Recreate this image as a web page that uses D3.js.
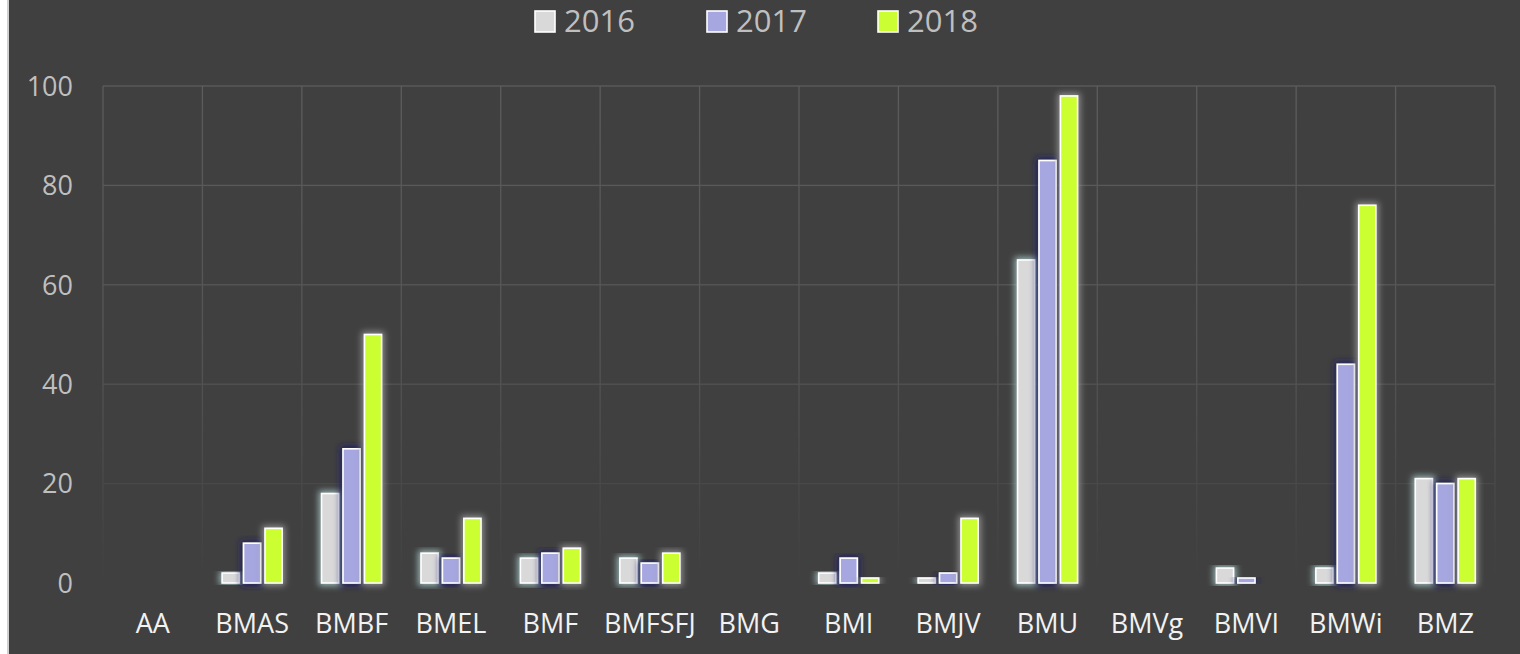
<!DOCTYPE html>
<html>
<head>
<meta charset="utf-8">
<script src="https://cdn.jsdelivr.net/npm/d3@7"></script>
<style>
  body { margin: 0; background: #fff; }
  svg { display: block; }
</style>
</head>
<body>
<svg width="1520" height="654"></svg>
<script>
var categories = ["AA", "BMAS", "BMBF", "BMEL", "BMF", "BMFSFJ", "BMG", "BMI", "BMJV", "BMU", "BMVg", "BMVI", "BMWi", "BMZ"];
var years = ["2016", "2017", "2018"];
var values2016 = [0, 2, 18, 6, 5, 5, 0, 2, 1, 65, 0, 3, 3, 21];
var values2017 = [0, 8, 27, 5, 6, 4, 0, 5, 2, 85, 0, 1, 44, 20];
var values2018 = [0, 11, 50, 13, 7, 6, 0, 1, 13, 98, 0, 0, 76, 21];
var yTicks = [0, 20, 40, 60, 80, 100];

var colors = { "2016": "#d9d9d9", "2017": "#a6a6e0", "2018": "#ccff33" };
var glows = { "2016": "#a8c8c8", "2017": "#1c1c6a", "2018": "#9a9a9a" };

var svg = d3.select('svg');
var defs = svg.append('defs');

// background panel with a light left edge
svg.append('rect')
  .attr('x', 8).attr('y', 0)
  .attr('width', 1520).attr('height', 654)
  .attr('fill', '#404040');
svg.append('line')
  .attr('x1', 8).attr('x2', 8).attr('y1', 0).attr('y2', 654)
  .attr('stroke', '#d0d0d0').attr('stroke-width', 2);

var plotLeft = 103, plotRight = 1495, plotTop = 86, plotBottom = 583;

var x = d3.scaleBand().domain(categories).range([plotLeft, plotRight]);
var y = d3.scaleLinear().domain([0, 100]).range([plotBottom, plotTop]);

// grid lines fade out toward the bottom
var grad = defs.append('linearGradient')
  .attr('id', 'gridFade')
  .attr('gradientUnits', 'userSpaceOnUse')
  .attr('x1', 0).attr('y1', plotTop).attr('x2', 0).attr('y2', plotBottom);
grad.append('stop').attr('offset', '0%').attr('stop-color', '#5c5c5c');
grad.append('stop').attr('offset', '55%').attr('stop-color', '#545454');
grad.append('stop').attr('offset', '100%').attr('stop-color', '#404040');

var grid = svg.append('g');
grid.selectAll('rect.h')
  .data(yTicks.filter(function(d){ return d > 0; }))
  .enter()
  .append('rect')
  .attr('x', plotLeft)
  .attr('y', function(d){ return y(d) - 0.65; })
  .attr('width', plotRight - plotLeft)
  .attr('height', 1.3)
  .attr('fill', 'url(#gridFade)');

var vLines = categories.map(function(c){ return x(c); }).concat([plotRight]);
grid.selectAll('rect.v')
  .data(vLines)
  .enter()
  .append('rect')
  .attr('x', function(d){ return d - 0.65; })
  .attr('y', plotTop)
  .attr('width', 1.3)
  .attr('height', plotBottom - plotTop)
  .attr('fill', 'url(#gridFade)');

// glow filters
years.forEach(function(yr){
  var f = defs.append('filter')
    .attr('id', 'glow' + yr)
    .attr('x', '-60%').attr('y', '-20%').attr('width', '220%').attr('height', '140%');
  f.append('feMorphology').attr('in', 'SourceAlpha').attr('operator', 'dilate').attr('radius', 2).attr('result', 'dil');
  f.append('feGaussianBlur').attr('in', 'dil').attr('stdDeviation', 3).attr('result', 'blur');
  f.append('feFlood').attr('flood-color', glows[yr]).attr('flood-opacity', 0.85);
  f.append('feComposite').attr('in2', 'blur').attr('operator', 'in').attr('result', 'g');
  var m = f.append('feMerge');
  m.append('feMergeNode').attr('in', 'g');
  m.append('feMergeNode').attr('in', 'SourceGraphic');
});

var series = [
  { year: "2016", values: values2016 },
  { year: "2017", values: values2017 },
  { year: "2018", values: values2018 }
];

var inner = d3.scaleBand().domain(years).range([0, 60]).paddingInner(0.2);
var groupOffset = (x.bandwidth() - 60) / 2;

series.forEach(function(s){
  svg.append('g')
    .selectAll('rect')
    .data(s.values.map(function(v, i){ return { cat: categories[i], v: v }; })
      .filter(function(d){ return d.v > 0; }))
    .enter()
    .append('rect')
    .attr('x', function(d){ return x(d.cat) + groupOffset + inner(s.year); })
    .attr('y', function(d){ return y(d.v); })
    .attr('width', inner.bandwidth())
    .attr('height', function(d){ return y(0) - y(d.v); })
    .attr('fill', colors[s.year])
    .attr('stroke', '#ffffff')
    .attr('stroke-width', 1.6)
    .attr('filter', 'url(#glow' + s.year + ')');
});

// y axis labels
svg.append('g')
  .selectAll('text')
  .data(yTicks)
  .enter()
  .append('text')
  .attr('x', 73)
  .attr('y', function(d){ return y(d); })
  .attr('dy', '0.36em')
  .attr('text-anchor', 'end')
  .attr('fill', '#bfbfbf')
  .attr('font-family', 'Open Sans')
  .attr('font-size', 27)
  .text(function(d){ return d; });

// x axis labels
svg.append('g')
  .selectAll('text')
  .data(categories)
  .enter()
  .append('text')
  .attr('x', function(d){ return x(d) + x.bandwidth() / 2; })
  .attr('y', 633)
  .attr('text-anchor', 'middle')
  .attr('fill', '#f2f2f2')
  .attr('font-family', 'Open Sans')
  .attr('font-size', 27)
  .text(function(d){ return d; });

// legend
var legendX = d3.scaleOrdinal().domain(years).range([535, 707, 878]);
var legend = svg.append('g')
  .selectAll('g')
  .data(years)
  .enter()
  .append('g')
  .attr('transform', function(d){ return 'translate(' + legendX(d) + ',11)'; });
legend.append('rect')
  .attr('width', 20).attr('height', 21)
  .attr('fill', function(d){ return colors[d]; })
  .attr('stroke', '#ffffff')
  .attr('stroke-width', 1.6);
legend.append('text')
  .attr('x', 29)
  .attr('y', 21)
  .attr('fill', '#bfbfbf')
  .attr('font-family', 'Open Sans')
  .attr('font-size', 31)
  .text(function(d){ return d; });
</script>
</body>
</html>
